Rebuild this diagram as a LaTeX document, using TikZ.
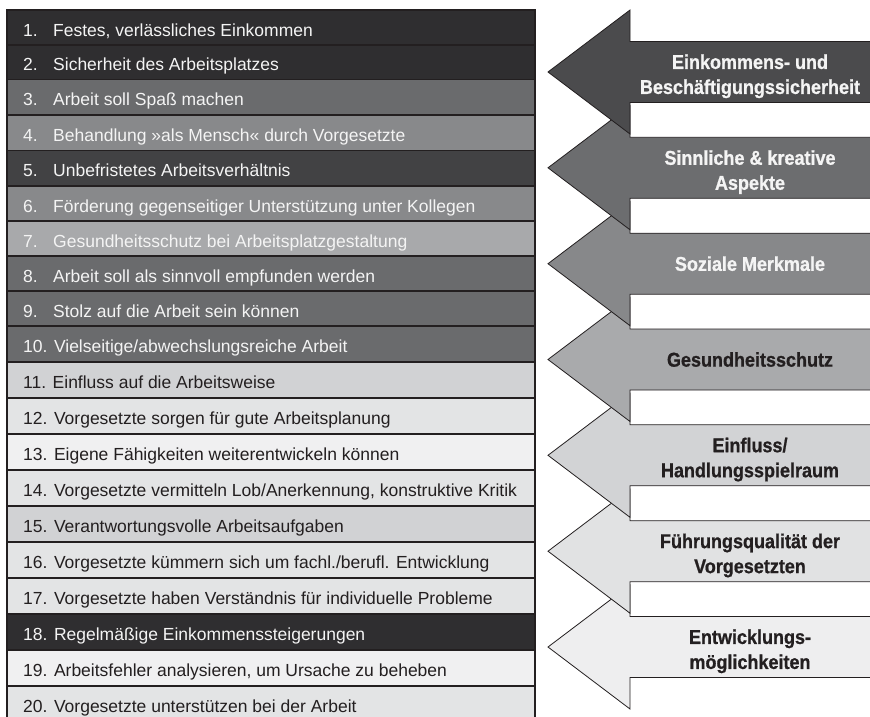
\documentclass[tikz,border=0pt]{standalone}
\usepackage{fontspec}
\setmainfont{Liberation Sans}
\newfontfamily\arrowfont{Liberation Sans Bold}[FakeStretch=0.9, FakeBold=0.8]
\definecolor{ink}{HTML}{231F20}
\definecolor{rA}{HTML}{2F2E30}
\definecolor{rB}{HTML}{424244}
\definecolor{rC}{HTML}{6A6B6D}
\definecolor{rD}{HTML}{88898B}
\definecolor{rE}{HTML}{A8A9AB}
\definecolor{rF}{HTML}{D1D2D4}
\definecolor{rG}{HTML}{E3E4E5}
\definecolor{rH}{HTML}{F0F0F1}
\definecolor{aA}{HTML}{4B4B4D}
\definecolor{aB}{HTML}{6C6D6F}
\definecolor{aC}{HTML}{87888A}
\definecolor{aD}{HTML}{A9AAAC}
\definecolor{aE}{HTML}{D2D3D5}
\definecolor{aF}{HTML}{E1E2E3}
\definecolor{aG}{HTML}{EEEEEF}
\definecolor{lighttext}{HTML}{F4F4F4}
\tikzset{
  rowbox/.style={draw=ink, line width=1.2pt},
  rowtext/.style={anchor=base west, inner sep=0pt, font=\fontsize{17.5}{20}\selectfont},
  arrowshape/.style={draw=ink, line width=0.8pt, line join=miter},
  arrowlabel/.style={align=center, inner sep=0pt, font=\arrowfont\fontsize{20}{25}\selectfont},
}
\newcommand{\mkrow}[7]{%
  \draw[rowbox, fill=#4] (7,#2) rectangle (535,#3);
  \node[rowtext, text=#5] (n#1) at (23,{(#2+#3)/2+8.7}) {#6};
  \node[rowtext, text=#5] (t#1) at (53,{(#2+#3)/2+8.7}) {#7};
}
\newcommand{\mkrowb}[6]{%
  \draw[rowbox, fill=#4] (7,#2) rectangle (535,#3);
  \node[rowtext, text=#5] (t#1) at (23,{(#2+#3)/2+8.7}) {#6};
}
\newcommand{\mkarrow}[2]{%
  \draw[arrowshape, fill=#2] (548,#1) -- (630,{#1-62}) -- (630,{#1-30.5}) -- (880,{#1-30.5})
    -- (880,{#1+30.5}) -- (630,{#1+30.5}) -- (630,{#1+62}) -- cycle;
}
\begin{document}
\begin{tikzpicture}[x=1pt,y=-1pt]
\useasboundingbox (0,0) rectangle (870,717);
\clip (0,0) rectangle (870,717);
\fill[white] (0,0) rectangle (870,717);
% table rows
\mkrow{1}{10}{45}{rA}{lighttext}{1.}{Festes, verlässliches Einkommen}
\mkrow{2}{45}{79.5}{rA}{lighttext}{2.}{Sicherheit des Arbeitsplatzes}
\mkrow{3}{79.5}{115}{rC}{lighttext}{3.}{Arbeit soll Spaß machen}
\mkrow{4}{115}{150.5}{rD}{lighttext}{4.}{Behandlung »als Mensch« durch Vorgesetzte}
\mkrow{5}{150.5}{186}{rB}{lighttext}{5.}{Unbefristetes Arbeitsverhältnis}
\mkrow{6}{186}{221}{rD}{lighttext}{6.}{Förderung gegenseitiger Unterstützung unter Kollegen}
\mkrow{7}{221}{256}{rE}{lighttext}{7.}{Gesundheitsschutz bei Arbeitsplatzgestaltung}
\mkrow{8}{256}{291}{rC}{lighttext}{8.}{Arbeit soll als sinnvoll empfunden werden}
\mkrow{9}{291}{326}{rC}{lighttext}{9.}{Stolz auf die Arbeit sein können}
\mkrowb{10}{326}{362}{rC}{lighttext}{10. Vielseitige/abwechslungsreiche Arbeit}
\mkrowb{11}{362}{398}{rF}{ink}{11. Einfluss auf die Arbeitsweise}
\mkrowb{12}{398}{434}{rG}{ink}{12. Vorgesetzte sorgen für gute Arbeitsplanung}
\mkrowb{13}{434}{470}{rH}{ink}{13. Eigene Fähigkeiten weiterentwickeln können}
\mkrowb{14}{470}{506}{rG}{ink}{14. Vorgesetzte vermitteln Lob/Anerkennung, konstruktive Kritik}
\mkrowb{15}{506}{542}{rF}{ink}{15. Verantwortungsvolle Arbeitsaufgaben}
\mkrowb{16}{542}{578}{rG}{ink}{16. Vorgesetzte kümmern sich um fachl./berufl. Entwicklung}
\mkrowb{17}{578}{614}{rG}{ink}{17. Vorgesetzte haben Verständnis für individuelle Probleme}
\mkrowb{18}{614}{650}{rA}{lighttext}{18. Regelmäßige Einkommenssteigerungen}
\mkrowb{19}{650}{686}{rH}{ink}{19. Arbeitsfehler analysieren, um Ursache zu beheben}
\mkrowb{20}{686}{722}{rG}{ink}{20. Vorgesetzte unterstützen bei der Arbeit}
% arrows (lower ones first, upper ones on top)
\mkarrow{647}{aG}
\mkarrow{551.2}{aF}
\mkarrow{455.3}{aE}
\mkarrow{359.5}{aD}
\mkarrow{263.7}{aC}
\mkarrow{167.8}{aB}
\mkarrow{72}{aA}
\node[arrowlabel, text=lighttext] (a1) at (750,76.3) {Einkommens- und\\Beschäftigungssicherheit};
\node[arrowlabel, text=lighttext] (a2) at (750,172.1) {Sinnliche \& kreative\\Aspekte};
\node[arrowlabel, text=lighttext] (a3) at (750,263.7) {Soziale Merkmale};
\node[arrowlabel, text=ink] (a4) at (750,359.5) {Gesundheitsschutz};
\node[arrowlabel, text=ink] (a5) at (750,459.6) {Einfluss/\\Handlungsspielraum};
\node[arrowlabel, text=ink] (a6) at (750,555.5) {Führungsqualität der\\Vorgesetzten};
\node[arrowlabel, text=ink] (a7) at (750,651.3) {Entwicklungs-\\möglichkeiten};
\end{tikzpicture}
\end{document}
